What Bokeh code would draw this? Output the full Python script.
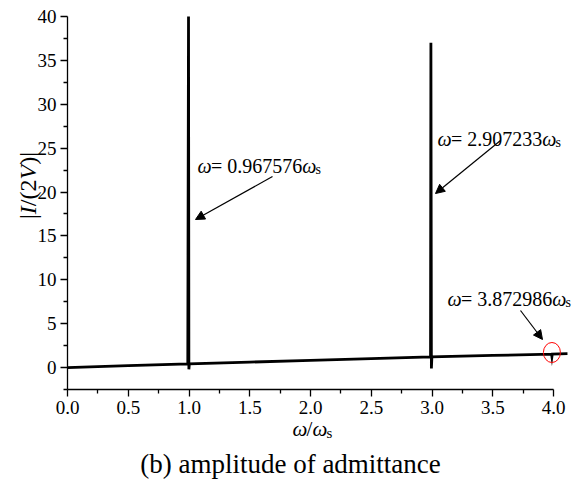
import math
from bokeh.plotting import figure
from bokeh.models import Range1d, FixedTicker, Label, Arrow, NormalHead, PrintfTickFormatter
from bokeh.embed import file_html
from bokeh.resources import INLINE

# ---- data ----
freq = [0.0, 0.5, 0.990, 0.996, 0.999, 1.003, 1.5, 2.0, 2.5, 2.988, 2.991, 2.995, 2.999,
        3.5, 3.984, 3.987, 3.990, 4.115]
amp = [0.0, 0.21, 0.41, 40.0, -0.2, 0.42, 0.62, 0.82, 1.02, 1.21, 37.0, -0.1, 1.22,
       1.38, 1.53, 1.25, 1.54, 1.58]
res_values = ["0.967576", "2.907233", "3.872986"]
res_plot_x = [0.997, 2.993, 3.987]
x_ticks = [0.0, 0.5, 1.0, 1.5, 2.0, 2.5, 3.0, 3.5, 4.0]
x_minor = [0.25, 0.75, 1.25, 1.75, 2.25, 2.75, 3.25, 3.75]
y_ticks = [0, 5, 10, 15, 20, 25, 30, 35, 40]
y_minor = [-2.5, 2.5, 7.5, 12.5, 17.5, 22.5, 27.5, 32.5, 37.5]

FONT = "Liberation Serif"
W, H = 577, 479
AX_L, AX_T, AX_B = 67, 16, 389          # pixel positions of the axes
XA0, XA1 = 0.0, 4.0                      # x axis span
YA0, YA1 = -2.5, 40.0                    # y axis span
XS = 121.5                               # px per x unit
YS = (AX_B - AX_T) / (YA1 - YA0)         # px per y unit
X0 = XA0 - AX_L / XS
X1 = X0 + W / XS
Y0 = YA0 - (H - AX_B) / YS
Y1 = Y0 + H / YS


def dx(px):
    return X0 + px / XS


def dy(py):
    return Y0 + (H - py) / YS


p = figure(frame_width=W, frame_height=H, output_backend="svg", toolbar_location=None,
           x_range=Range1d(X0, X1), y_range=Range1d(Y0, Y1),
           min_border=0)
p.outline_line_color = None
p.grid.visible = False
p.background_fill_color = "white"
p.border_fill_color = "white"

for ax in (p.xaxis[0], p.yaxis[0]):
    ax.axis_line_width = 1.3
    ax.axis_line_color = "black"
    ax.major_tick_line_color = "black"
    ax.minor_tick_line_color = "black"
    ax.major_tick_line_width = 1.3
    ax.minor_tick_line_width = 1.3
    ax.major_tick_out = 7
    ax.major_tick_in = 0
    ax.minor_tick_out = 4
    ax.minor_tick_in = 0
    ax.major_label_text_font = FONT
    ax.major_label_text_font_size = "19px"
    ax.major_label_text_color = "black"

p.xaxis[0].ticker = FixedTicker(ticks=x_ticks, minor_ticks=x_minor)
p.xaxis[0].bounds = (XA0, XA1)
p.xaxis[0].fixed_location = YA0
p.xaxis[0].formatter = PrintfTickFormatter(format="%.1f")
p.xaxis[0].major_label_standoff = 4
p.yaxis[0].ticker = FixedTicker(ticks=y_ticks, minor_ticks=y_minor)
p.yaxis[0].bounds = (YA0, YA1)
p.yaxis[0].fixed_location = XA0
p.yaxis[0].major_label_standoff = 4

p.line(freq, amp, line_color="black", line_width=2.8, line_join="miter")

W_REG = {' ': 0.25, '=': 0.564, '.': 0.25, '/': 0.278, '(': 0.333, ')': 0.333, '|': 0.2, 's': 0.389}
W_IT = {'ω': 0.67, 'I': 0.333, 'V': 0.611}


def width(txt, size, italic):
    tab = W_IT if italic else W_REG
    return sum(tab.get(c, 0.5) for c in txt) * size


def rich(px, py, pieces):
    x = px
    for txt, size, italic, shift in pieces:
        p.add_layout(Label(x=dx(x), y=dy(py + shift), text=txt, text_font=FONT,
                           text_font_size=f"{size}px", text_font_style="italic" if italic else "normal",
                           text_baseline="alphabetic", text_align="left", text_color="black"))
        x += width(txt, size, italic)


def omega_label(px, py, val, size=20):
    rich(px, py, [("ω", size, True, 0), ("= " + val, size, False, 0), ("ω", size, True, 0),
                  ("s", int(size * 0.7), False, 4)])


# annotations
ann = [((197, 165), (272, 176), (195, 219)),
       ((437, 138), (500, 140), (435, 193)),
       ((447, 298), (520, 310), (542, 339))]
for val, (tpos, tail, tip) in zip(res_values, ann):
    omega_label(tpos[0], tpos[1], val)
    p.add_layout(Arrow(end=NormalHead(size=9, fill_color="black", line_color="black", line_width=1),
                       x_start=dx(tail[0]), y_start=dy(tail[1]), x_end=dx(tip[0]), y_end=dy(tip[1]),
                       line_color="black", line_width=1.2))

p.ellipse(x=[res_plot_x[2]], y=[dy(352)], width=17, height=20, width_units="screen",
          height_units="screen", fill_color=None, line_color="red", line_width=1)

# x axis label
rich(292, 428, [("ω", 21, True, 0), ("/", 21, False, 0), ("ω", 21, True, 0), ("s", 15, False, 4)])

# title
title_txt = "(b) amplitude of admittance"
p.add_layout(Label(x=dx(290), y=dy(463), text=title_txt, text_font=FONT, text_font_size="27px",
                   text_align="center", text_baseline="alphabetic", text_color="black"))

# y axis label (rotated)
ypieces = [("|", False), ("I", True), ("/(2", False), ("V", True), (")|", False)]
ys = 24
total = sum(width(t, ys, it) for t, it in ypieces)
cur = 185 + total / 2
for t, it in ypieces:
    p.add_layout(Label(x=dx(27), y=dy(cur), text=t, text_font=FONT, text_font_size=f"{ys}px",
                       text_font_style="italic" if it else "normal", angle=math.pi / 2,
                       text_baseline="alphabetic", text_align="left", text_color="black"))
    cur -= width(t, ys, it)

open("out.html", "w").write(file_html(p, INLINE))
